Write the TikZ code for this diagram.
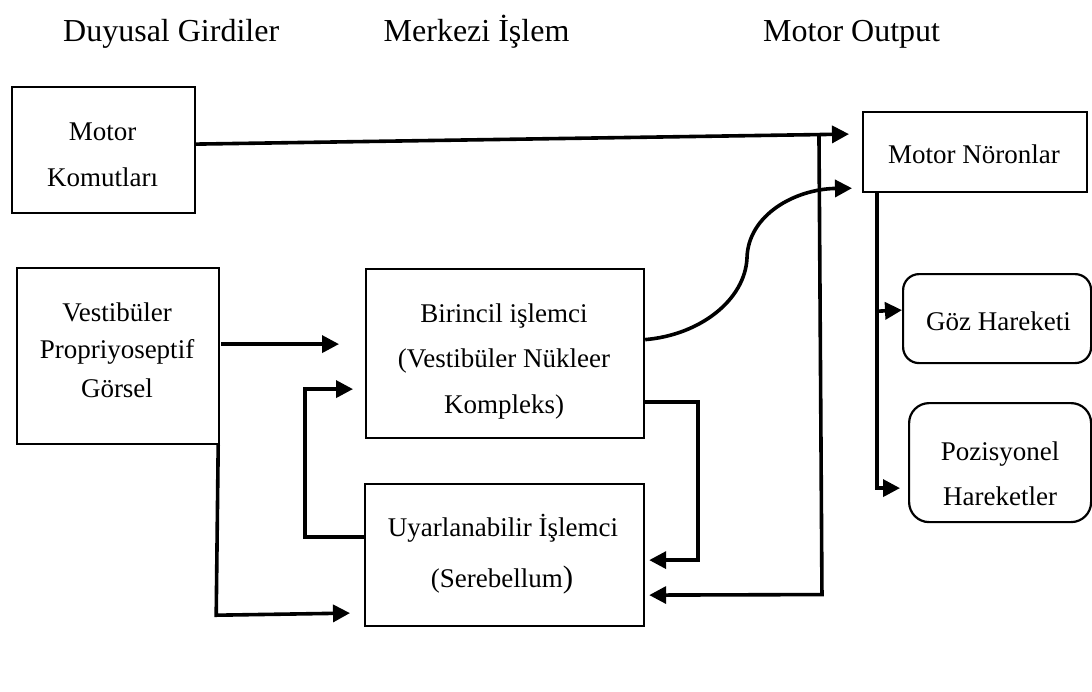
\documentclass[tikz,border=0pt]{standalone}
\usepackage{fontspec}
\setmainfont{Liberation Serif}
\usetikzlibrary{arrows.meta,calc}
\begin{document}
\begin{tikzpicture}[x=1pt,y=-1pt,
  box/.style={draw, line width=2.2pt, inner sep=0pt, anchor=north west},
  rbox/.style={box, rounded corners=16pt},
  txt/.style={font=\fontsize{27}{32}\selectfont, anchor=base, inner sep=0pt},
  ttl/.style={font=\fontsize{32}{38}\selectfont, anchor=base west, inner sep=0pt},
  conn/.style={line width=3.6pt},
  arr/.style={conn, -{Triangle[length=17pt,width=17pt]}},
]
\useasboundingbox (0,0) rectangle (1092,691);

% titles
\node[ttl] (t1) at (63,41) {Duyusal Girdiler};
\node[ttl] (t2) at (383.5,41) {Merkezi İşlem};
\node[ttl] (t3) at (763,41) {Motor Output};

% boxes
\node[box, minimum width=183pt, minimum height=126pt] (mk) at (11,86) {};
\node[box, minimum width=224pt, minimum height=80pt] (mn) at (862,111) {};
\node[box, minimum width=202pt, minimum height=176pt] (vs) at (16,267) {};
\node[box, minimum width=278pt, minimum height=169pt] (bp) at (365,268) {};
\node[box, minimum width=279pt, minimum height=142pt] (ur) at (364,483) {};
\node[rbox, minimum width=188pt, minimum height=89pt] (gz) at (902,273) {};
\node[rbox, rounded corners=20pt, minimum width=182pt, minimum height=119pt] (pz) at (908,402) {};

% texts
\node[txt] (mk1) at (102.5,140) {Motor};
\node[txt] (mk2) at (102.5,186) {Komutları};
\node[txt] (mn1) at (974,163) {Motor Nöronlar};
\node[txt] (vs1) at (117,321) {Vestibüler};
\node[txt] (vs2) at (117,358) {Propriyoseptif};
\node[txt] (vs3) at (117,397) {Görsel};
\node[txt] (bp1) at (504,322) {Birincil işlemci};
\node[txt] (bp2) at (504,367) {(Vestibüler Nükleer};
\node[txt] (bp3) at (504,413) {Kompleks)};
\node[txt] (ur1) at (503,536) {Uyarlanabilir İşlemci};
\node[txt] (ur2) at (502,587) {(Serebellum{\fontsize{31}{31}\selectfont)}};
\node[txt] (gz1) at (998.5,330) {Göz Hareketi};
\node[txt] (pz1) at (1000,460) {Pozisyonel};
\node[txt] (pz2) at (1000,505) {Hareketler};

% connectors
\draw[arr] ($(mk.east)+(0,-6)$) -- coordinate[pos=0.954] (fb) ($(mn.west)+(-13,-18)$);
\draw[arr] (fb) -- ($(fb)+(3,460)$) -- ($(ur.east)+(4,40)$);
\draw[arr] ($(bp.east)+(0,-14)$) .. controls (700,335) and (745,300) .. (747,258)
  .. controls (748,215) and (795,189) .. ($(mn.south west)+(-10,-5)$);
\draw[arr] ($(mn.south west)+(15,-1)$) |- ($(pz.west)+(-8,25.5)$);
\draw[arr] ($(mn.south west)+(15,118)$) -- ($(gz.west)+(0,-8.5)$);
\draw[arr] ($(vs.east)+(1,-12)$) -- ($(bp.west)+(-26,-9.5)$);
\draw[arr] ($(vs.south east)+(-2,0)$) -- ($(vs.south east)+(-4,170)$) -- ($(ur.west)+(-14,58)$);
\draw[arr] ($(ur.west)+(0,-18)$) -| ($(bp.west)+(-60,35.5)$) -- ($(bp.west)+(-12,35.5)$);
\draw[arr] ($(bp.east)+(0,48.5)$) -- ++(53,0) |- ($(ur.east)+(4,5)$);
\end{tikzpicture}
\end{document}
